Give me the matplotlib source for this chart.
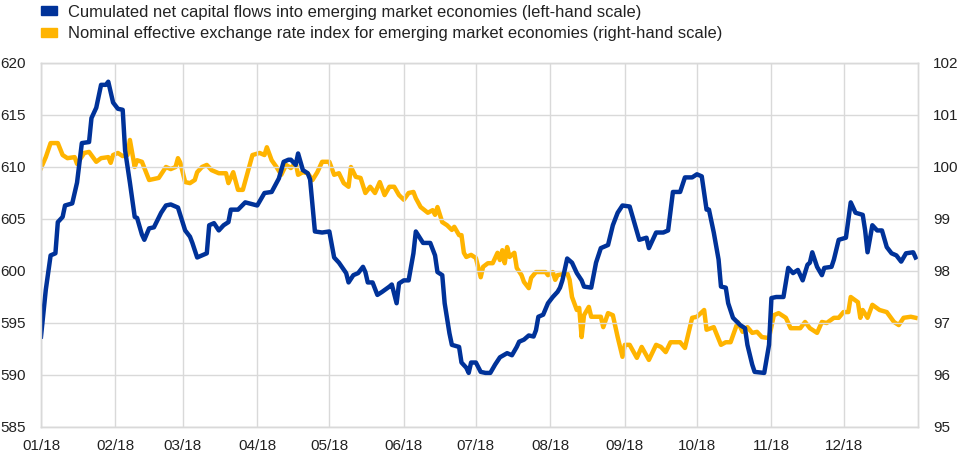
import matplotlib as mpl

mpl.use("Agg")

import matplotlib.dates as mdates
import matplotlib.pyplot as plt
import pandas as pd
from matplotlib.patches import Patch

# cumulated net capital flows (left-hand scale), day offset from 1 Jan 2018
flow_days = [0, 2, 4, 6, 7, 9, 10, 13, 15, 17, 20, 21, 23, 25, 27, 28, 30, 32, 34, 35,
             37, 39, 40, 42, 43, 45, 47, 50, 52, 54, 57, 60, 62, 63, 65, 67, 69, 70, 72, 74,
             76, 78, 79, 82, 85, 90, 93, 96, 99, 101, 103, 104, 106, 107, 109, 111, 112, 114, 117, 120,
             122, 124, 127, 128, 130, 132, 134, 135, 136, 138, 140, 142, 145, 146, 148, 149, 151, 153, 155, 156,
             159, 162, 164, 165, 167, 168, 170, 171, 174, 175, 177, 178, 179, 181, 183, 185, 187, 189, 191, 194,
             196, 198, 199, 201, 203, 205, 206, 207, 209, 211, 213, 215, 216, 217, 219, 221, 223, 225, 226, 229,
             231, 233, 236, 238, 240, 242, 245, 247, 249, 252, 253, 256, 259, 261, 263, 266, 268, 271, 273, 275,
             277, 278, 280, 282, 283, 285, 286, 288, 291, 293, 294, 296, 297, 301, 303, 304, 306, 309, 311, 313,
             315, 317, 319, 320, 321, 323, 325, 326, 329, 330, 332, 335, 337, 339, 342, 343, 344, 346, 348, 350,
             352, 354, 356, 358, 360, 363, 364]
flow_values = [593.7, 598.2, 601.5, 601.7, 604.7, 605.2, 606.3, 606.5, 608.5, 612.3, 612.4, 614.7, 615.7, 617.9, 617.9, 618.2, 616.2, 615.6, 615.5, 611.6,
               608.5, 605.2, 605.1, 603.5, 603.0, 604.1, 604.2, 605.6, 606.3, 606.4, 606.1, 603.9, 603.3, 602.7, 601.3, 601.5, 601.7, 604.4, 604.6, 603.9,
               604.4, 604.7, 605.9, 605.9, 606.6, 606.3, 607.5, 607.6, 608.9, 610.5, 610.7, 610.7, 610.2, 611.3, 609.7, 609.4, 608.8, 603.8, 603.7, 603.8,
               601.3, 600.8, 599.8, 598.9, 599.6, 599.8, 600.4, 599.9, 598.9, 598.9, 597.7, 598.0, 598.5, 598.7, 596.9, 598.8, 599.1, 599.1, 601.7, 603.8,
               602.7, 602.7, 601.5, 599.9, 599.6, 596.9, 594.0, 592.9, 592.7, 591.2, 590.7, 590.2, 591.2, 591.2, 590.3, 590.2, 590.2, 591.0, 591.7, 592.1,
               591.9, 592.7, 593.2, 593.4, 593.8, 593.7, 594.3, 595.6, 595.8, 596.9, 597.5, 598.0, 598.4, 599.1, 601.2, 600.8, 599.8, 599.1, 598.5, 598.4,
               600.8, 602.2, 602.5, 604.4, 605.6, 606.3, 606.2, 604.6, 603.0, 603.2, 602.2, 603.7, 603.7, 603.9, 607.6, 607.6, 609.0, 609.0, 609.3, 609.1,
               605.9, 605.9, 603.7, 601.1, 598.5, 598.4, 596.9, 595.5, 594.8, 594.5, 592.9, 591.0, 590.3, 590.2, 592.9, 597.4, 597.5, 597.5, 600.3, 599.8,
               600.1, 599.1, 600.6, 600.8, 601.8, 600.4, 599.6, 600.3, 600.4, 601.1, 603.0, 603.2, 606.6, 605.6, 605.4, 603.9, 601.8, 604.4, 603.9, 603.9,
               602.3, 601.7, 601.5, 600.9, 601.7, 601.8, 601.3]

# nominal effective exchange rate index (right-hand scale)
neer_days = [0, 2, 4, 7, 9, 11, 14, 15, 18, 20, 23, 25, 28, 29, 30, 32, 34, 36, 37, 39,
             40, 42, 45, 49, 52, 54, 56, 57, 58, 60, 62, 64, 65, 67, 69, 71, 74, 77, 78, 80,
             82, 84, 88, 91, 93, 94, 96, 98, 100, 102, 104, 106, 107, 109, 111, 113, 115, 117, 120, 122,
             124, 126, 128, 129, 131, 133, 135, 137, 139, 141, 143, 145, 147, 149, 151, 153, 155, 156, 158, 161,
             163, 164, 165, 167, 169, 171, 172, 174, 175, 176, 177, 179, 181, 183, 184, 186, 188, 190, 191, 192,
             193, 194, 195, 197, 198, 200, 201, 203, 204, 206, 210, 211, 213, 214, 215, 219, 220, 221, 223, 224,
             225, 226, 228, 229, 233, 234, 236, 238, 240, 242, 243, 245, 248, 250, 253, 256, 258, 260, 262, 266,
             268, 271, 273, 276, 277, 280, 283, 285, 287, 290, 292, 294, 296, 298, 300, 303, 305, 307, 310, 312,
             316, 318, 320, 323, 325, 327, 330, 332, 334, 336, 337, 340, 341, 342, 344, 346, 349, 352, 355, 357,
             359, 362, 364]
neer_values = [99.98, 100.19, 100.46, 100.46, 100.23, 100.17, 100.19, 100.06, 100.27, 100.29, 100.10, 100.17, 100.19, 100.08, 100.23, 100.27, 100.21, 100.23, 100.52, 100.00,
               100.13, 100.10, 99.75, 99.79, 100.00, 99.96, 100.00, 100.17, 100.08, 99.71, 99.69, 99.75, 99.90, 100.00, 100.04, 99.94, 99.88, 99.88, 99.69, 99.90,
               99.56, 99.56, 100.23, 100.27, 100.23, 100.38, 100.13, 100.00, 99.85, 100.04, 99.98, 100.08, 99.85, 99.90, 99.88, 99.75, 99.90, 100.10, 100.10, 99.85,
               99.88, 99.69, 99.62, 100.00, 99.81, 99.79, 99.50, 99.62, 99.50, 99.71, 99.46, 99.62, 99.62, 99.46, 99.37, 99.50, 99.52, 99.40, 99.23, 99.12,
               99.17, 99.08, 99.23, 98.94, 98.88, 98.79, 98.85, 98.69, 98.69, 98.35, 98.27, 98.31, 98.25, 97.88, 98.08, 98.15, 98.15, 98.35, 98.21, 98.40,
               98.15, 98.46, 98.27, 98.35, 98.06, 97.92, 97.79, 97.67, 97.87, 97.98, 97.98, 97.92, 97.98, 97.83, 97.92, 97.96, 97.83, 97.50, 97.25, 97.29,
               96.73, 97.15, 97.31, 97.12, 97.12, 96.92, 97.19, 97.15, 96.73, 96.35, 96.58, 96.58, 96.33, 96.54, 96.29, 96.58, 96.54, 96.44, 96.63, 96.63,
               96.52, 97.10, 97.12, 97.25, 96.87, 96.92, 96.58, 96.63, 96.63, 97.02, 96.83, 96.92, 96.81, 96.83, 96.73, 96.71, 97.15, 97.19, 97.10, 96.90,
               96.90, 97.02, 96.90, 96.81, 97.02, 97.00, 97.10, 97.10, 97.21, 97.21, 97.50, 97.40, 97.10, 97.25, 97.10, 97.35, 97.25, 97.21, 97.02, 96.96,
               97.10, 97.12, 97.10]

flow_label = "Cumulated net capital flows into emerging market economies (left-hand scale)"
neer_label = "Nominal effective exchange rate index for emerging market economies (right-hand scale)"

BLUE = "#003299"
YELLOW = "#ffb400"
GRID = "#d9d9d9"
TEXT = "#222222"

plt.rcParams["font.family"] = ["Liberation Sans", "DejaVu Sans"]

start = pd.Timestamp("2018-01-01")
flow_dates = start + pd.to_timedelta(flow_days, unit="D")
neer_dates = start + pd.to_timedelta(neer_days, unit="D")

fig = plt.figure(figsize=(9.6, 4.54), dpi=100)
ax = fig.add_axes([41 / 960, 27 / 454, 877 / 960, 364 / 454])
ax2 = ax.twinx()

ax2.plot(neer_dates, neer_values, color=YELLOW, linewidth=3.2, solid_joinstyle="round")
ax.plot(flow_dates, flow_values, color=BLUE, linewidth=3.2, solid_joinstyle="round")
ax.set_zorder(ax2.get_zorder() + 1)
ax.patch.set_visible(False)
ax2.patch.set_facecolor("white")

ax.set_xlim(start, pd.Timestamp("2019-01-01"))
ax.set_ylim(585, 620)
ax.set_yticks(range(585, 621, 5))
ax2.set_ylim(95, 102)
ax2.set_yticks(range(95, 103))

month_starts = pd.date_range("2018-01-01", "2018-12-01", freq="MS")
ax.set_xticks(month_starts)
ax.xaxis.set_major_formatter(mdates.DateFormatter("%m/%y"))

ax2.grid(False)
ax.grid(True, color=GRID, linewidth=1.0)
ax.set_axisbelow(True)

for a in (ax, ax2):
    for spine in a.spines.values():
        spine.set_color(GRID)
        spine.set_linewidth(1.0)
    a.tick_params(length=0, labelsize=11, colors=TEXT)
ax.tick_params(axis="y", pad=11)
ax2.tick_params(axis="y", pad=11)
ax.tick_params(axis="x", pad=9)

handles = [
    Patch(facecolor=BLUE, edgecolor=BLUE, label=flow_label),
    Patch(facecolor=YELLOW, edgecolor=YELLOW, label=neer_label),
]
fig.legend(
    handles=handles,
    loc="upper left",
    bbox_to_anchor=(41 / 960, 0.99),
    frameon=False,
    fontsize=11.85,
    borderpad=0,
    borderaxespad=0,
    handlelength=1.0,
    handleheight=0.45,
    handletextpad=0.65,
    labelspacing=0.42,
    labelcolor=TEXT,
)

fig.savefig("out.png", dpi=100, facecolor="white")
